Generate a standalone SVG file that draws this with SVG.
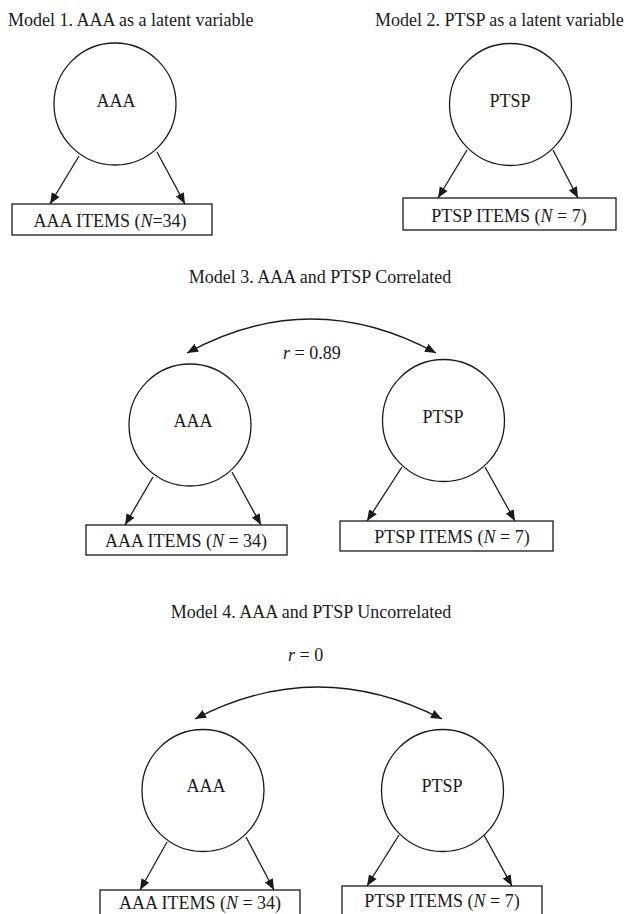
<svg xmlns="http://www.w3.org/2000/svg" width="631" height="914" viewBox="0 0 631 914">
<style>
text{font-family:"Liberation Serif","Times New Roman",serif;font-size:18px;fill:#1a1a1a}
.c{text-anchor:middle}
.n{fill:none;stroke:#1a1a1a;stroke-width:1.3}
.box{fill:#fff;stroke:#1a1a1a;stroke-width:1.3}
.e{fill:none;stroke:#1a1a1a;stroke-width:1.3;marker-end:url(#ah)}
.b{fill:none;stroke:#1a1a1a;stroke-width:1.3;marker-start:url(#ah);marker-end:url(#ah)}
</style>
<defs>
<marker id="ah" viewBox="0 0 11 10" refX="11" refY="5" markerWidth="11" markerHeight="10" markerUnits="userSpaceOnUse" orient="auto-start-reverse">
<path d="M0,0.5 L11,5 L0,9.5 z" fill="#1a1a1a"/>
</marker>
</defs>
<text x="8" y="26">Model 1. AAA as a latent variable</text>
<text x="375" y="26">Model 2. PTSP as a latent variable</text>
<text class="c" x="320" y="283">Model 3. AAA and PTSP Correlated</text>
<text class="c" x="311" y="618">Model 4. AAA and PTSP Uncorrelated</text>
<text x="283" y="359"><tspan font-style="italic">r</tspan> = 0.89</text>
<text x="288" y="661"><tspan font-style="italic">r</tspan> = 0</text>

<g id="m1-aaa"><circle class="n" cx="115" cy="104" r="61"/><text class="c" x="116" y="107">AAA</text></g>
<g id="m1-items"><rect class="box" x="12" y="204" width="200" height="31"/><text class="c" x="110" y="227">AAA ITEMS (<tspan font-style="italic">N</tspan>=34)</text></g>
<g id="m2-ptsp"><circle class="n" cx="510.5" cy="104.5" r="61"/><text class="c" x="510" y="107">PTSP</text></g>
<g id="m2-items"><rect class="box" x="403" y="198" width="213" height="32"/><text class="c" x="509" y="222">PTSP ITEMS (<tspan font-style="italic">N</tspan> = 7)</text></g>

<g id="m3-aaa"><circle class="n" cx="190" cy="425" r="61"/><text class="c" x="193" y="427">AAA</text></g>
<g id="m3-aaa-items"><rect class="box" x="86" y="525" width="201" height="30"/><text class="c" x="186" y="547">AAA ITEMS (<tspan font-style="italic">N</tspan> = 34)</text></g>
<g id="m3-ptsp"><circle class="n" cx="443.5" cy="420.5" r="61"/><text class="c" x="443" y="423">PTSP</text></g>
<g id="m3-ptsp-items"><rect class="box" x="340" y="521" width="213" height="30"/><text class="c" x="452" y="543">PTSP ITEMS (<tspan font-style="italic">N</tspan> = 7)</text></g>

<g id="m4-aaa"><circle class="n" cx="203" cy="790.5" r="61"/><text class="c" x="206" y="792">AAA</text></g>
<g id="m4-aaa-items"><rect class="box" x="100" y="890" width="200" height="40"/><text class="c" x="200" y="909">AAA ITEMS (<tspan font-style="italic">N</tspan> = 34)</text></g>
<g id="m4-ptsp"><circle class="n" cx="442.5" cy="790.5" r="61"/><text class="c" x="442" y="792">PTSP</text></g>
<g id="m4-ptsp-items"><rect class="box" x="342" y="886" width="200" height="40"/><text class="c" x="442" y="907">PTSP ITEMS (<tspan font-style="italic">N</tspan> = 7)</text></g>

<g id="connectors">
<line class="e" x1="79" y1="156" x2="50" y2="204"/>
<line class="e" x1="157" y1="152" x2="185" y2="204"/>
<line class="e" x1="467" y1="150" x2="438" y2="198"/>
<line class="e" x1="553" y1="150" x2="578" y2="198"/>
<path class="b" d="M187,353 Q311,285 436,353"/>
<line class="e" x1="153" y1="477" x2="125" y2="525"/>
<line class="e" x1="232" y1="472" x2="261" y2="525"/>
<line class="e" x1="402" y1="467" x2="367" y2="521"/>
<line class="e" x1="485" y1="467" x2="515" y2="521"/>
<path class="b" d="M195,719 Q317,655 442,719"/>
<line class="e" x1="167" y1="842" x2="140" y2="890"/>
<line class="e" x1="246" y1="837" x2="274" y2="890"/>
<line class="e" x1="399" y1="835" x2="367" y2="886"/>
<line class="e" x1="484" y1="835" x2="512" y2="886"/>
</g>
</svg>
